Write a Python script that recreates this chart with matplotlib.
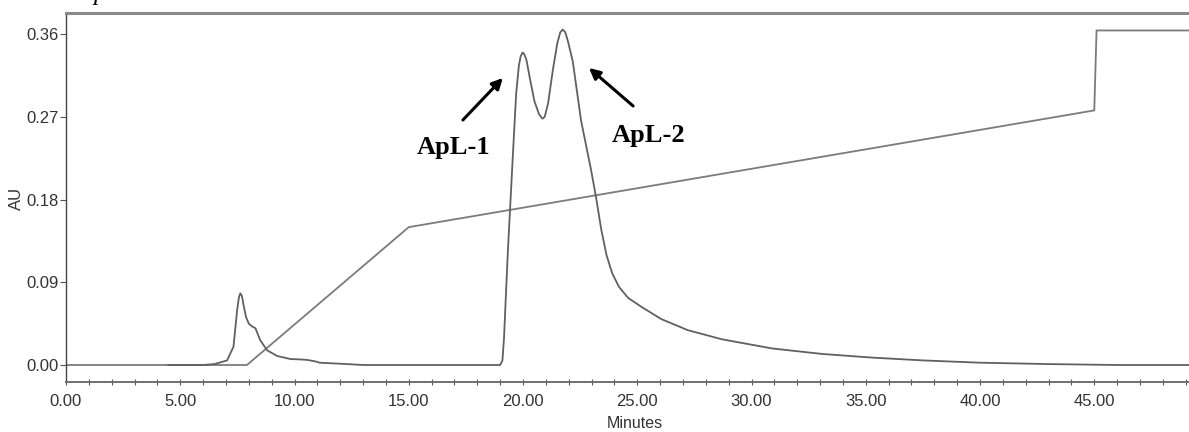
import matplotlib
matplotlib.use("Agg")
import matplotlib.pyplot as plt
from matplotlib.ticker import MultipleLocator, FormatStrFormatter

# Chromatogram (absorbance) trace
chrom_t = [4.47, 6.0, 6.5, 7.05, 7.33, 7.49, 7.57, 7.63, 7.7, 7.78, 7.88, 8.0, 8.14, 8.29,
           8.5, 8.8, 9.24, 9.82, 10.3, 10.56, 10.9, 11.1, 12.3, 13.0, 19.0, 19.1, 19.17,
           19.33, 19.43, 19.56, 19.7, 19.82, 19.9, 19.98, 20.06, 20.15, 20.3, 20.5,
           20.7, 20.85, 20.95, 21.1, 21.3, 21.5, 21.63, 21.74, 21.85, 21.97, 22.18,
           22.54, 22.98, 23.2, 23.42, 23.65, 23.9, 24.2, 24.6, 25.2, 26.05, 27.2, 28.7,
           30.9, 33.1, 35.3, 37.5, 40.0, 43.0, 46.0, 49.3]
chrom_au = [0.0, 0.0, 0.001, 0.005, 0.02, 0.060, 0.074, 0.078, 0.075, 0.064, 0.052,
            0.045, 0.042, 0.040, 0.027, 0.016, 0.0098, 0.0065, 0.006, 0.0055, 0.004,
            0.0025, 0.001, 0.0, 0.0, 0.005, 0.03, 0.12, 0.168, 0.23, 0.295, 0.326, 0.336,
            0.340, 0.338, 0.332, 0.312, 0.287, 0.273, 0.268, 0.270, 0.285, 0.320, 0.350,
            0.362, 0.365, 0.362, 0.352, 0.330, 0.266, 0.212, 0.182, 0.148, 0.120, 0.100,
            0.085, 0.073, 0.063, 0.050, 0.038, 0.028, 0.018, 0.012, 0.008, 0.005,
            0.0025, 0.001, 0.0, 0.0]

# Gradient trace
grad_t = [0.0, 7.92, 15.0, 45.0, 45.1, 49.3]
grad_au = [0.0, 0.0, 0.150, 0.277, 0.364, 0.364]

y_ticks = [0.00, 0.09, 0.18, 0.27, 0.36]

peak_labels = ["ApL-1", "ApL-2"]
label_xy = [(16.97, 0.237), (25.48, 0.250)]
arrow_tail = [(17.37, 0.2666), (24.82, 0.2818)]
arrow_head = [(19.12, 0.3123), (22.89, 0.3232)]

W, H = 1189, 432
fig = plt.figure(figsize=(W / 100, H / 100), dpi=100)
ax_w = 1 - 66 / W + 0.002
ax = fig.add_axes([66 / W, (H - 382) / H, ax_w, (382 - 13) / H])

ax.plot(grad_t, grad_au, color="#7a7a80", lw=1.3)
ax.plot(chrom_t, chrom_au, color="#606060", lw=1.3)

ax.set_xlim(0, 49.25)
ax.set_ylim(-0.0185, 0.383)

ax.xaxis.set_major_locator(MultipleLocator(5))
ax.xaxis.set_minor_locator(MultipleLocator(1))
ax.xaxis.set_major_formatter(FormatStrFormatter("%.2f"))
ax.set_yticks(y_ticks)
ax.yaxis.set_major_formatter(FormatStrFormatter("%.2f"))

ax.tick_params(axis="x", which="both", direction="inout", length=5, width=0.8,
               color="#555555", labelsize=12, labelcolor="#333333", pad=6)
ax.tick_params(axis="y", direction="out", length=4, width=0.8, color="#555555",
               labelsize=12, labelcolor="#333333", pad=1)
for lab in ax.get_xticklabels() + ax.get_yticklabels():
    lab.set_family("Liberation Sans")

ax.spines["right"].set_visible(False)
ax.spines["top"].set_color("#8a8a8a")
ax.spines["top"].set_linewidth(2.2)
ax.spines["left"].set_color("#444444")
ax.spines["left"].set_linewidth(1.0)
ax.spines["bottom"].set_color("#707070")
ax.spines["bottom"].set_linewidth(1.4)

ax.set_xlabel("Minutes", family="Liberation Sans", fontsize=11.5, color="#333333")
ax.set_ylabel("AU", family="Liberation Sans", fontsize=12, color="#333333")
ax_px_w = ax_w * W
ax.xaxis.set_label_coords((635 - 66) / ax_px_w, -34 / 369)
ax.yaxis.set_label_coords(-(66 - 24) / ax_px_w, (382 - 198) / 369)

for lab, xy, tail, head in zip(peak_labels, label_xy, arrow_tail, arrow_head):
    ax.text(xy[0], xy[1], lab, family="Liberation Serif", fontweight="bold",
            fontsize=19, ha="center", va="center", color="black")
    ax.annotate("", xy=head, xytext=tail,
                arrowprops=dict(arrowstyle="-|>", color="black", lw=2.2,
                                mutation_scale=16, shrinkA=0, shrinkB=0))

fig.text(100 / W, 1.0, "p", family="Liberation Serif", style="italic",
         fontsize=18, va="baseline", ha="center", color="black")

fig.savefig("out.png", dpi=100)
